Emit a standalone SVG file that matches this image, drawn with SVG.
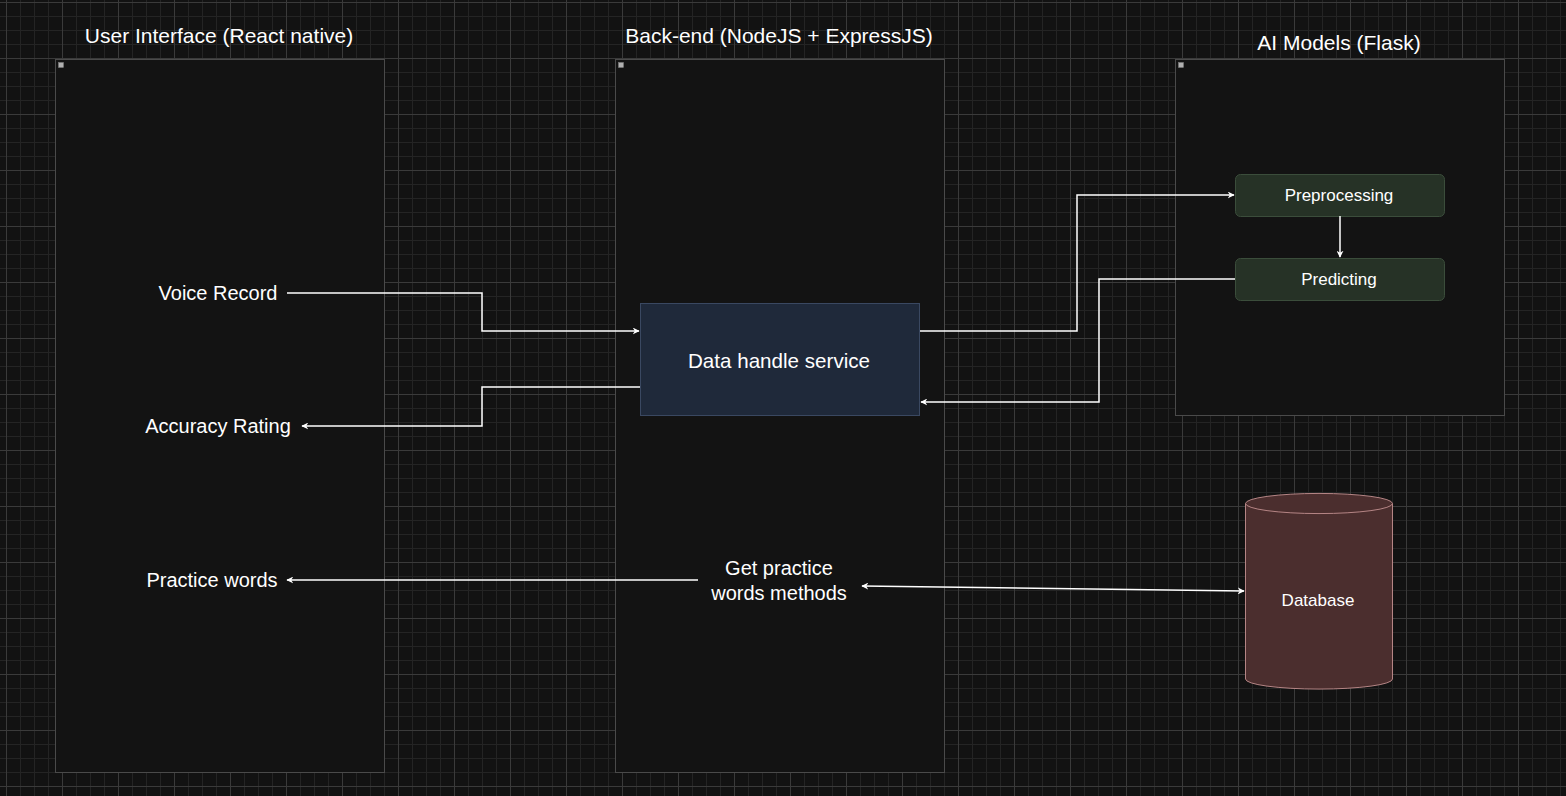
<svg xmlns="http://www.w3.org/2000/svg" width="1566" height="796" viewBox="0 0 1566 796">
<defs>
<pattern id="minor" width="14" height="14" patternUnits="userSpaceOnUse" x="6" y="2">
<path d="M0 0.5H14M0.5 0V14" fill="none" stroke="#242424" stroke-width="1"/>
</pattern>
<pattern id="major" width="56" height="56" patternUnits="userSpaceOnUse" x="6" y="2">
<path d="M0 0.5H56M0.5 0V56" fill="none" stroke="#3a3a3a" stroke-width="1"/>
</pattern>
<marker id="arr" viewBox="0 0 10 10" refX="9" refY="5" markerWidth="7" markerHeight="7" markerUnits="userSpaceOnUse" orient="auto-start-reverse">
<path d="M0 0L10 5L0 10L3 5Z" fill="#ffffff"/>
</marker>
<style>
text{font-family:"Liberation Sans",Arial,sans-serif;fill:#ffffff;text-anchor:middle;dominant-baseline:central}
.title{font-size:21px}
.lbl{font-size:20px}
.big{font-size:20.6px}
.small{font-size:17px}
.cont{fill:#131313;stroke:#4a4a4a;stroke-width:1}
.icon{fill:#b0b0b0;stroke:#808080;stroke-width:0.5}
.green{fill:#263226;stroke:#3b4d3b;stroke-width:1}
.con{fill:none;stroke:#ffffff;stroke-width:1.5}
</style>
</defs>
<rect width="1566" height="796" fill="#121212"/>
<rect width="1566" height="796" fill="url(#minor)"/>
<rect width="1566" height="796" fill="url(#major)"/>

<g id="ui-container">
<rect class="cont" x="55.5" y="59.5" width="329" height="713"/>
<rect class="icon" x="58.5" y="62.5" width="5" height="5"/>
<text class="title" x="219" y="35">User Interface (React native)</text>
</g>
<g id="backend-container">
<rect class="cont" x="615.5" y="59.5" width="329" height="713"/>
<rect class="icon" x="618.5" y="62.5" width="5" height="5"/>
<text class="title" x="779" y="35">Back-end (NodeJS + ExpressJS)</text>
</g>
<g id="ai-container">
<rect class="cont" x="1175.5" y="59.5" width="329" height="356"/>
<rect class="icon" x="1178.5" y="62.5" width="5" height="5"/>
<text class="title" x="1339" y="42">AI Models (Flask)</text>
</g>

<g id="voice-record"><text class="lbl" x="218" y="293">Voice Record</text></g>
<g id="accuracy-rating"><text class="lbl" x="218" y="426">Accuracy Rating</text></g>
<g id="practice-words"><text class="lbl" x="212" y="580">Practice words</text></g>

<g id="data-handle">
<rect x="640.5" y="303.5" width="279" height="112" fill="#1f293a" stroke="#3a4861" stroke-width="1"/>
<text class="big" x="779" y="360">Data handle service</text>
</g>
<g id="get-practice">
<text class="lbl" x="779" y="568">Get practice</text>
<text class="lbl" x="779" y="593">words methods</text>
</g>
<g id="preprocessing">
<rect class="green" x="1235.5" y="174.5" width="209" height="42" rx="5"/>
<text class="small" x="1339" y="195">Preprocessing</text>
</g>
<g id="predicting">
<rect class="green" x="1235.5" y="258.5" width="209" height="42" rx="5"/>
<text class="small" x="1339" y="279">Predicting</text>
</g>
<g id="database">
<path d="M1245.5 503.5A73 10 0 0 1 1392.5 503.5V679A73 10 0 0 1 1245.5 679Z" fill="#4b2e2e" stroke="#b58585" stroke-width="1"/>
<path d="M1245.5 503.5A73 10 0 0 0 1392.5 503.5" fill="none" stroke="#b58585" stroke-width="1"/>
<text class="small" x="1318" y="600">Database</text>
</g>

<g id="connectors">
<path class="con" d="M287 293H482V331H639" marker-end="url(#arr)"/>
<path class="con" d="M640 387H482V426H302" marker-end="url(#arr)"/>
<path class="con" d="M920 331H1077V195H1234" marker-end="url(#arr)"/>
<path class="con" d="M1340 216V257" marker-end="url(#arr)"/>
<path class="con" d="M1235 279H1099V402H921" marker-end="url(#arr)"/>
<path class="con" d="M698 580H287" marker-end="url(#arr)"/>
<path class="con" d="M862 586L1244 591" marker-start="url(#arr)" marker-end="url(#arr)"/>
</g>
</svg>
